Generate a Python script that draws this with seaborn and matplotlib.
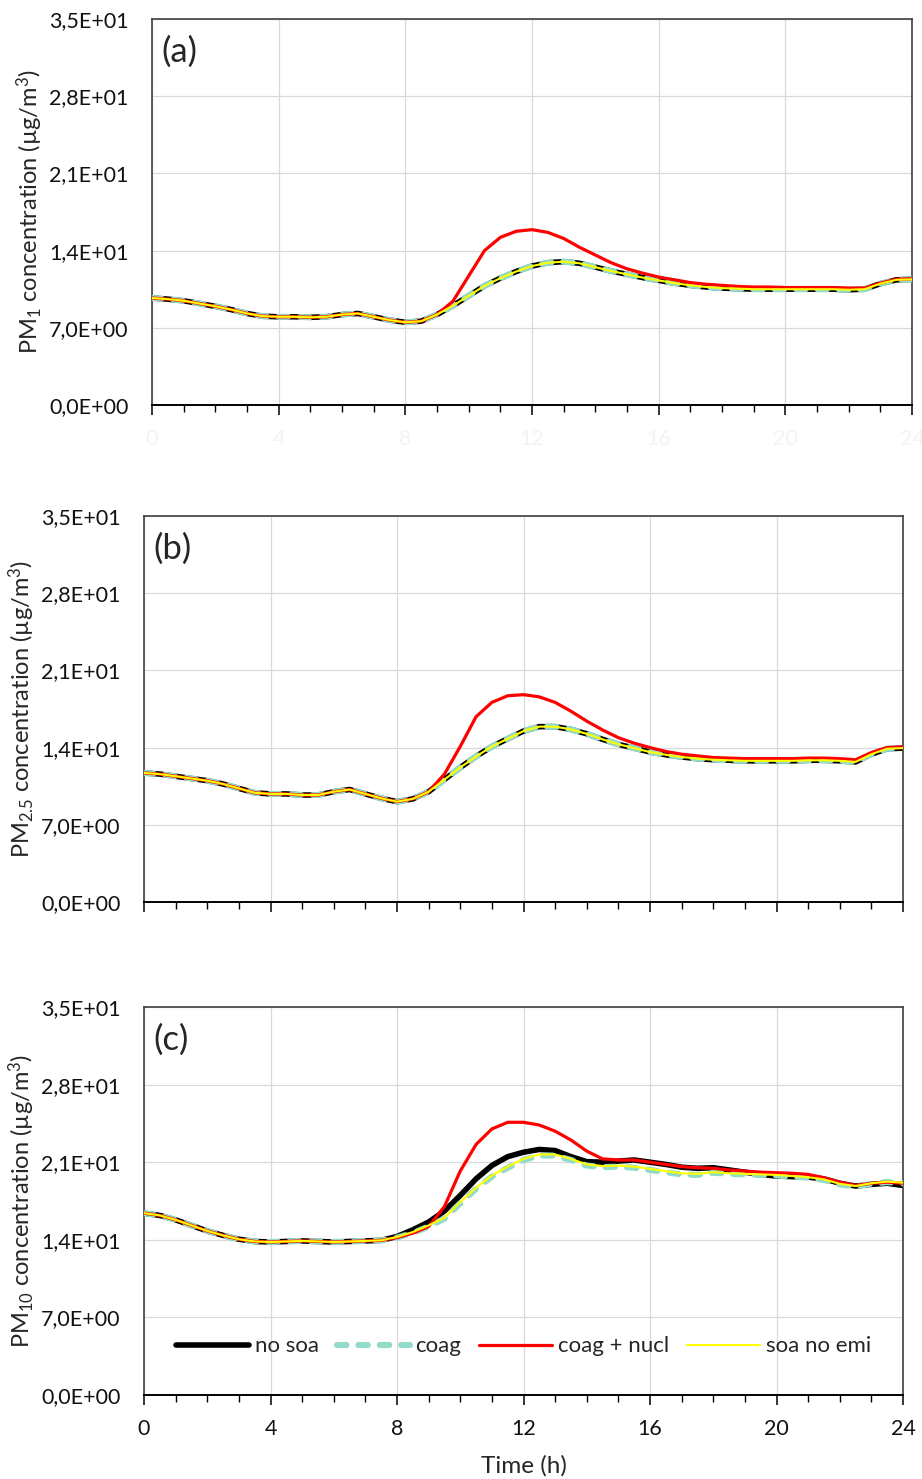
import numpy as np
import pandas as pd
import matplotlib
matplotlib.use("Agg")
import matplotlib.pyplot as plt
from matplotlib.ticker import MultipleLocator, FuncFormatter
import seaborn as sns

# ---------------------------
# Data, every 0.5 h
# ---------------------------
hours = [i * 0.5 for i in range(49)]

# (a) PM1
no_soa_a = [9.7, 9.6, 9.45, 9.2, 8.95, 8.65, 8.3, 8.05, 8.0, 8.0, 7.95, 8.0, 8.2, 8.3,
            8.0, 7.7, 7.5, 7.6, 8.2, 9.0, 9.9, 10.8, 11.5, 12.1, 12.6, 12.9, 13.0, 12.85,
            12.5, 12.15, 11.85, 11.55, 11.3, 11.05, 10.85, 10.7, 10.6, 10.55, 10.5, 10.5,
            10.5, 10.5, 10.5, 10.5, 10.45, 10.5, 11.0, 11.35, 11.4]
coag_a = list(no_soa_a)
nucl_a = [9.7, 9.6, 9.45, 9.2, 8.95, 8.65, 8.3, 8.05, 8.0, 8.0, 7.95, 8.0, 8.2, 8.3,
          8.0, 7.7, 7.5, 7.6, 8.2, 9.4, 11.7, 14.0, 15.2, 15.75, 15.9, 15.65, 15.1, 14.3,
          13.6, 12.9, 12.35, 11.95, 11.6, 11.35, 11.1, 10.95, 10.85, 10.75, 10.7, 10.7,
          10.65, 10.65, 10.65, 10.65, 10.6, 10.6, 11.05, 11.4, 11.45]
noemi_a = list(no_soa_a)

# (b) PM2.5
no_soa_b = [11.7, 11.6, 11.4, 11.2, 11.0, 10.7, 10.3, 9.9, 9.8, 9.8, 9.7, 9.7, 10.0, 10.2,
            9.8, 9.4, 9.1, 9.35, 10.0, 11.1, 12.2, 13.2, 14.1, 14.8, 15.5, 15.9, 15.9, 15.65,
            15.25, 14.75, 14.3, 13.95, 13.6, 13.35, 13.15, 13.0, 12.9, 12.85, 12.8, 12.8,
            12.8, 12.8, 12.85, 12.85, 12.8, 12.7, 13.4, 13.9, 13.95]
coag_b = list(no_soa_b)
nucl_b = [11.7, 11.6, 11.4, 11.2, 11.0, 10.7, 10.3, 9.9, 9.8, 9.8, 9.7, 9.7, 10.0, 10.2,
          9.8, 9.4, 9.1, 9.35, 10.0, 11.6, 14.1, 16.8, 18.1, 18.7, 18.8, 18.6, 18.1, 17.3,
          16.4, 15.6, 14.9, 14.4, 14.0, 13.65, 13.4, 13.25, 13.1, 13.05, 13.0, 13.0,
          13.0, 13.0, 13.05, 13.05, 13.0, 12.9, 13.55, 14.0, 14.05]
noemi_b = list(no_soa_b)

# (c) PM10
no_soa_c = [16.4, 16.2, 15.8, 15.3, 14.8, 14.4, 14.05, 13.85, 13.8, 13.85, 13.9, 13.85,
            13.8, 13.85, 13.9, 13.95, 14.3, 14.9, 15.6, 16.6, 18.0, 19.5, 20.7, 21.5, 21.9,
            22.15, 22.05, 21.5, 21.05, 21.0, 21.1, 21.2, 21.0, 20.8, 20.55, 20.45, 20.5,
            20.3, 20.1, 19.9, 19.75, 19.7, 19.65, 19.5, 19.1, 18.85, 19.0, 19.1, 18.9]
coag_c = [16.4, 16.2, 15.8, 15.3, 14.8, 14.4, 14.05, 13.85, 13.8, 13.85, 13.9, 13.85,
          13.8, 13.85, 13.9, 13.95, 14.2, 14.6, 15.2, 15.9, 17.3, 18.6, 19.7, 20.5, 21.2,
          21.6, 21.6, 21.2, 20.7, 20.55, 20.6, 20.5, 20.3, 20.1, 19.9, 19.85, 20.05,
          19.95, 19.9, 19.85, 19.8, 19.7, 19.6, 19.4, 19.0, 18.8, 19.05, 19.2, 19.1]
nucl_c = [16.4, 16.2, 15.8, 15.3, 14.8, 14.4, 14.05, 13.85, 13.8, 13.85, 13.9, 13.85,
          13.8, 13.85, 13.9, 13.95, 14.2, 14.6, 15.2, 17.0, 20.2, 22.6, 24.0, 24.6, 24.6,
          24.35, 23.8, 23.0, 22.0, 21.3, 21.2, 21.2, 21.0, 20.8, 20.6, 20.5, 20.45,
          20.3, 20.2, 20.1, 20.05, 20.0, 19.9, 19.6, 19.2, 18.9, 19.1, 19.2, 19.1]
noemi_c = [16.4, 16.2, 15.8, 15.3, 14.8, 14.4, 14.05, 13.85, 13.8, 13.85, 13.9, 13.85,
           13.8, 13.85, 13.9, 13.95, 14.25, 14.7, 15.3, 16.0, 17.4, 18.7, 19.8, 20.6, 21.3,
           21.7, 21.7, 21.3, 20.8, 20.65, 20.7, 20.6, 20.4, 20.2, 20.0, 19.95, 20.1,
           20.0, 19.95, 19.9, 19.85, 19.75, 19.65, 19.45, 19.05, 18.85, 19.1, 19.25, 19.15]

SERIES = ["no soa", "coag", "coag + nucl", "soa no emi"]
PANELS = [
    ("(a)", "PM$_1$ concentration (µg/m$^3$)", [no_soa_a, coag_a, nucl_a, noemi_a]),
    ("(b)", "PM$_{2.5}$ concentration (µg/m$^3$)", [no_soa_b, coag_b, nucl_b, noemi_b]),
    ("(c)", "PM$_{10}$ concentration (µg/m$^3$)", [no_soa_c, coag_c, nucl_c, noemi_c]),
]
Y_TICKS = [0, 7, 14, 21, 28, 35]
X_TICKS = [0, 4, 8, 12, 16, 20, 24]

# ---------------------------
# Styles
# ---------------------------
STYLES = {
    "no soa": dict(color="black", lw=4.0, solid_capstyle="round",
                   solid_joinstyle="round", zorder=2),
    "coag": dict(color="#92dbc8", lw=4.4, linestyle=(0, (1.55, 1.95)),
                 dash_capstyle="round", dash_joinstyle="round", zorder=3),
    "coag + nucl": dict(color="#ff0000", lw=2.3, solid_joinstyle="round", zorder=4),
    "soa no emi": dict(color="#ffff00", lw=1.5, solid_joinstyle="round", zorder=5),
}

AX_POS = [
    [152 / 922, 1 - 405 / 1479, 760 / 922, 386 / 1479],
    [144 / 922, 1 - 902 / 1479, 759 / 922, 386 / 1479],
    [144 / 922, 1 - 1395 / 1479, 759 / 922, 388 / 1479],
]


def sci_comma(v, pos):
    return f"{v:.1E}".replace(".", ",")


def build_frame(values):
    rows = []
    for name, vals in zip(SERIES, values):
        for h, v in zip(hours, vals):
            rows.append({"hour": h, "conc": v, "series": name})
    return pd.DataFrame(rows)


sns.set_theme(style="white")
plt.rcParams["font.family"] = ["Lato", "DejaVu Sans"]
plt.rcParams["mathtext.default"] = "regular"

fig = plt.figure(figsize=(9.22, 14.79), dpi=100)

for i, (tag, ylabel, values) in enumerate(PANELS):
    ax = fig.add_axes(AX_POS[i])
    df = build_frame(values)
    for name in SERIES:
        sub = df[df["series"] == name]
        sns.lineplot(data=sub, x="hour", y="conc", ax=ax, label=name,
                     legend=False, **STYLES[name])

    ax.set_xlim(0, 24)
    ax.set_ylim(0, 35)
    ax.set_xticks(X_TICKS)
    ax.set_yticks(Y_TICKS)
    ax.xaxis.set_minor_locator(MultipleLocator(1))
    ax.yaxis.set_major_formatter(FuncFormatter(sci_comma))
    ax.grid(True, which="major", color="#d9d9d9", lw=0.9)
    ax.set_axisbelow(True)

    ax.tick_params(axis="y", length=0, pad=17, labelsize=15.5, labelcolor="#111111")
    ax.tick_params(axis="x", which="major", direction="out", length=7, width=1.1,
                   color="black", pad=10, labelsize=15.5, labelcolor="#111111")
    ax.tick_params(axis="x", which="minor", direction="out", length=5, width=1.0,
                   color="black")
    ax.tick_params(axis="x", which="both", bottom=True)

    for side in ["top", "right", "left"]:
        ax.spines[side].set_color("#404040")
        ax.spines[side].set_linewidth(1.2)
    ax.spines["bottom"].set_color("black")
    ax.spines["bottom"].set_linewidth(1.4)

    ax.set_ylabel(ylabel, fontsize=17, labelpad=3)
    ax.text(0.012, 0.958, tag, transform=ax.transAxes, fontsize=25, va="top", ha="left")

    if i == 0:
        # x tick labels of the top panel are nearly white in the original
        ax.tick_params(axis="x", labelcolor="#f3f3f3")
        ax.set_xlabel("")
    elif i == 1:
        ax.tick_params(axis="x", labelbottom=False)
        ax.set_xlabel("")
    else:
        ax.set_xlabel("Time (h)", fontsize=17.5, labelpad=12)
        ax.legend(loc="center", bbox_to_anchor=(0.5, 0.125), ncol=4, frameon=False,
                  fontsize=16, handlelength=3.3, handletextpad=0.25, columnspacing=0.8,
                  borderaxespad=0)

fig.savefig("out.png", dpi=100)
